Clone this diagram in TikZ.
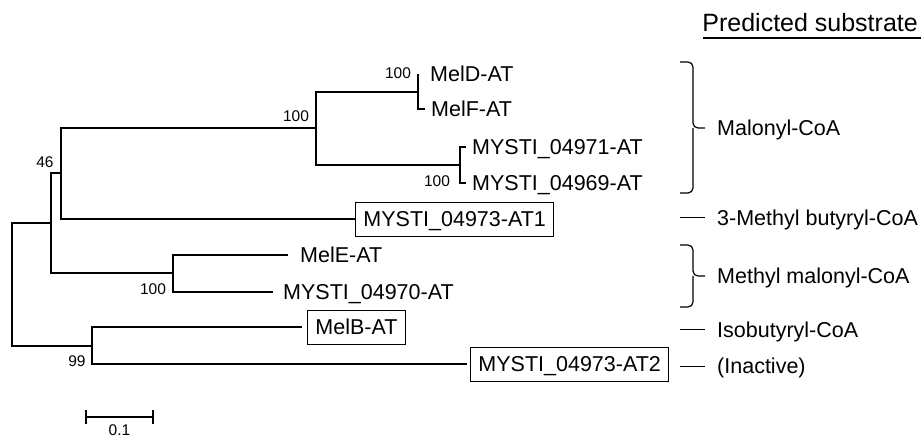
\documentclass[tikz,border=0pt]{standalone}
\usepackage{fontspec}
\setmainfont{Liberation Sans}
\begin{document}
\begin{tikzpicture}[x = 1pt, y = -1pt,
    branch/.style = {line width = 1.8pt},
    leaf/.style = {anchor = west, inner xsep = 6pt, inner ysep = 0pt,
                   text height = 15.4pt, text depth = 0pt,
                   font = \fontsize{21.5}{24}\selectfont},
    boxleaf/.style = {leaf, draw, line width = .9pt, inner xsep = 8pt,
                      minimum height = 34pt},
    boot/.style = {inner sep = 0pt, font = \fontsize{15.5}{17}\selectfont},
    subst/.style = {leaf, inner xsep = 12pt},
    grp/.style = {line width = 1.2pt, rounded corners = 5pt}]
  \useasboundingbox (0,0) rectangle (921,438);
  \coordinate (root) at (12,284);
  \coordinate (n46) at (51,223);
  \coordinate (nA) at (61,173);
  \coordinate (nMal) at (316,128);
  \coordinate (nD) at (418,92);
  \coordinate (nM) at (460,165);
  \coordinate (nME) at (173,273);
  \coordinate (n99) at (92,346);
  % leaves
  \node [leaf, inner xsep = 12pt] (meld) at (418,74) {MelD-AT};
  \node [leaf] (melf) at (425,109) {MelF-AT};
  \node [leaf] (m71) at (466,147) {MYSTI\_04971-AT};
  \node [leaf] (m69) at (466,183) {MYSTI\_04969-AT};
  \node [boxleaf] (at1) at (355,219) {MYSTI\_04973-AT1};
  \node [leaf, inner xsep = 12pt] (mele) at (288,255) {MelE-AT};
  \node [leaf, inner xsep = 10pt] (m70) at (273,292) {MYSTI\_04970-AT};
  \node [boxleaf] (melb) at (307,327) {MelB-AT};
  \node [boxleaf] (at2) at (470,364) {MYSTI\_04973-AT2};
  % branches
  \draw [branch] (root) |- (n46);
  \draw [branch] (root) |- (n99);
  \draw [branch] (n46) |- (nA);
  \draw [branch] (n46) |- (nME);
  \draw [branch] (nA) |- (nMal);
  \draw [branch] (nA) |- (at1.west);
  \draw [branch] (nMal) |- (nD);
  \draw [branch] (nMal) |- (nM);
  \draw [branch] (nD) |- (meld.west);
  \draw [branch] (nD) |- (melf.west);
  \draw [branch] (nM) |- (m71.west);
  \draw [branch] (nM) |- (m69.west);
  \draw [branch] (nME) |- (mele.west);
  \draw [branch] (nME) |- (m70.west);
  \draw [branch] (n99) |- ([xshift = -5pt]melb.west);
  \draw [branch] (n99) |- ([xshift = -3pt]at2.west);
  % bootstrap values
  \node [boot] (b46) at (45,162) {46};
  \node [boot] (bMal) at (296,116) {100};
  \node [boot] (bD) at (398,73) {100};
  \node [boot] (bM) at (437,181) {100};
  \node [boot] (bME) at (153,289) {100};
  \node [boot] (b99) at (77,361) {99};
  % substrates
  \node [anchor = base east, inner sep = 0pt,
         font = \fontsize{25}{28}\selectfont] (head) at (918,32) {Predicted substrate};
  \draw [line width = 1.2pt] (703,38) -- (921,38);
  \node [subst] (mal) at (705,128) {Malonyl-CoA};
  \node [subst] (mbu) at (705,218) {3-Methyl butyryl-CoA};
  \node [subst] (mmal) at (705,276) {Methyl malonyl-CoA};
  \node [subst] (ibu) at (705,330) {Isobutyryl-CoA};
  \node [subst] (inact) at (705,366) {(Inactive)};
  \draw [grp] (680,62) -| (693,128) -- (mal.west);
  \draw [grp] (680,193) -| (693,128);
  \draw [grp] (680,245) -| (693,276) -- (mmal.west);
  \draw [grp] (680,307) -| (693,276);
  \draw [line width = 1pt] ([xshift = -25pt]mbu.west) -- (mbu.west);
  \draw [line width = 1pt] ([xshift = -25pt]ibu.west) -- (ibu.west);
  \draw [line width = 1pt] ([xshift = -25pt]inact.west) -- (inact.west);
  % scale bar
  \draw [branch] (86,417) -- (153,417);
  \draw [branch] (86,410) -- (86,424);
  \draw [branch] (153,410) -- (153,424);
  \node [boot] (scale) at (119.5,430) {0.1};
\end{tikzpicture}
\end{document}
